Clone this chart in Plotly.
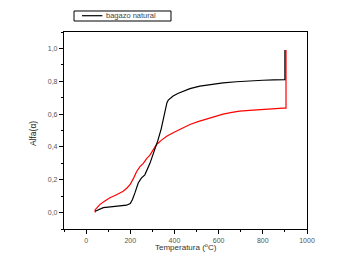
import plotly.graph_objects as go

# Black series (bagazo natural)
black_T = [41, 60, 78, 110, 138, 183, 200, 210, 221, 236, 250, 266, 289, 311, 325, 340, 357, 366, 372, 385, 394, 415, 439, 470, 515, 560, 620, 680, 740, 800, 850, 900, 900]
black_a = [0.008, 0.02, 0.03, 0.035, 0.04, 0.045, 0.055, 0.08, 0.12, 0.18, 0.21, 0.23, 0.30, 0.38, 0.44, 0.51, 0.63, 0.67, 0.685, 0.70, 0.71, 0.725, 0.74, 0.755, 0.77, 0.78, 0.79, 0.797, 0.803, 0.806, 0.808, 0.81, 0.99]

# Red series
red_T = [41, 41, 50, 63, 85, 108, 140, 168, 185, 199, 215, 229, 244, 259, 275, 289, 305, 319, 340, 365, 394, 430, 470, 510, 545, 580, 620, 660, 695, 740, 786, 840, 891, 905, 905]
red_a = [0.0, 0.018, 0.03, 0.05, 0.07, 0.09, 0.11, 0.13, 0.15, 0.17, 0.21, 0.25, 0.28, 0.30, 0.33, 0.35, 0.385, 0.415, 0.44, 0.465, 0.486, 0.51, 0.537, 0.556, 0.571, 0.585, 0.60, 0.61, 0.618, 0.623, 0.628, 0.632, 0.636, 0.636, 0.99]

x_ticks = [0, 200, 400, 600, 800, 1000]
y_ticks = [0.0, 0.2, 0.4, 0.6, 0.8, 1.0]
y_labels = ["0,0", "0,2", "0,4", "0,6", "0,8", "1,0"]
legend_label = "bagazo natural"

fig = go.Figure()
fig.add_trace(go.Scatter(x=red_T, y=red_a, mode="lines", line=dict(color="#ff0000", width=1.2),
                         showlegend=False))
fig.add_trace(go.Scatter(x=black_T, y=black_a, mode="lines", line=dict(color="#000000", width=1.2),
                         name=legend_label, showlegend=False))

FONT = "Liberation Sans, Arial"
axis_font = dict(family=FONT, size=7, color="#555555")

# manual legend (box, line sample, label)
fig.add_shape(type="rect", xref="paper", yref="paper", x0=0.0412, x1=0.4403, y0=1.0558, y1=1.1066,
              line=dict(color="black", width=1), fillcolor="white")
fig.add_shape(type="line", xref="paper", yref="paper", x0=0.074, x1=0.158, y0=1.0827, y1=1.0827,
              line=dict(color="black", width=1.2))
fig.add_annotation(text=legend_label, xref="paper", yref="paper", x=0.165, y=1.0827,
                   xanchor="left", yanchor="middle", showarrow=False,
                   font=dict(family=FONT, size=7.5, color="#444"))

# axis titles
fig.add_annotation(text="Temperatura (<sup>o</sup>C)", xref="paper", yref="paper", x=0.5, y=-0.0914,
                   xanchor="center", yanchor="middle", showarrow=False,
                   font=dict(family=FONT, size=8, color="#333"))
fig.add_annotation(text="Alfa(α)", xref="paper", yref="paper", x=-0.1276, y=0.487,
                   xanchor="center", yanchor="middle", showarrow=False, textangle=-90,
                   font=dict(family=FONT, size=8.5, color="#222"))

fig.update_layout(
    width=349, height=267,
    margin=dict(l=56, r=50, t=24, b=46),
    paper_bgcolor="white", plot_bgcolor="white",
    showlegend=False,
    xaxis=dict(range=[-100, 1000], tickvals=x_ticks, ticktext=[str(v) for v in x_ticks],
               showgrid=False, zeroline=False, showline=True, linecolor="black", linewidth=1.2,
               mirror=True, ticks="outside", ticklen=4, tickcolor="black", tickfont=axis_font,
               minor=dict(dtick=100, tick0=-100, ticks="outside", ticklen=2, tickcolor="black")),
    yaxis=dict(range=[-0.1, 1.1], tickvals=y_ticks, ticktext=y_labels,
               showgrid=False, zeroline=False, showline=True, linecolor="black", linewidth=1.2,
               mirror=True, ticks="outside", ticklen=4, tickcolor="black", tickfont=axis_font,
               minor=dict(dtick=0.1, tick0=-0.1, ticks="outside", ticklen=2, tickcolor="black")),
)

fig.write_html("out.html")
